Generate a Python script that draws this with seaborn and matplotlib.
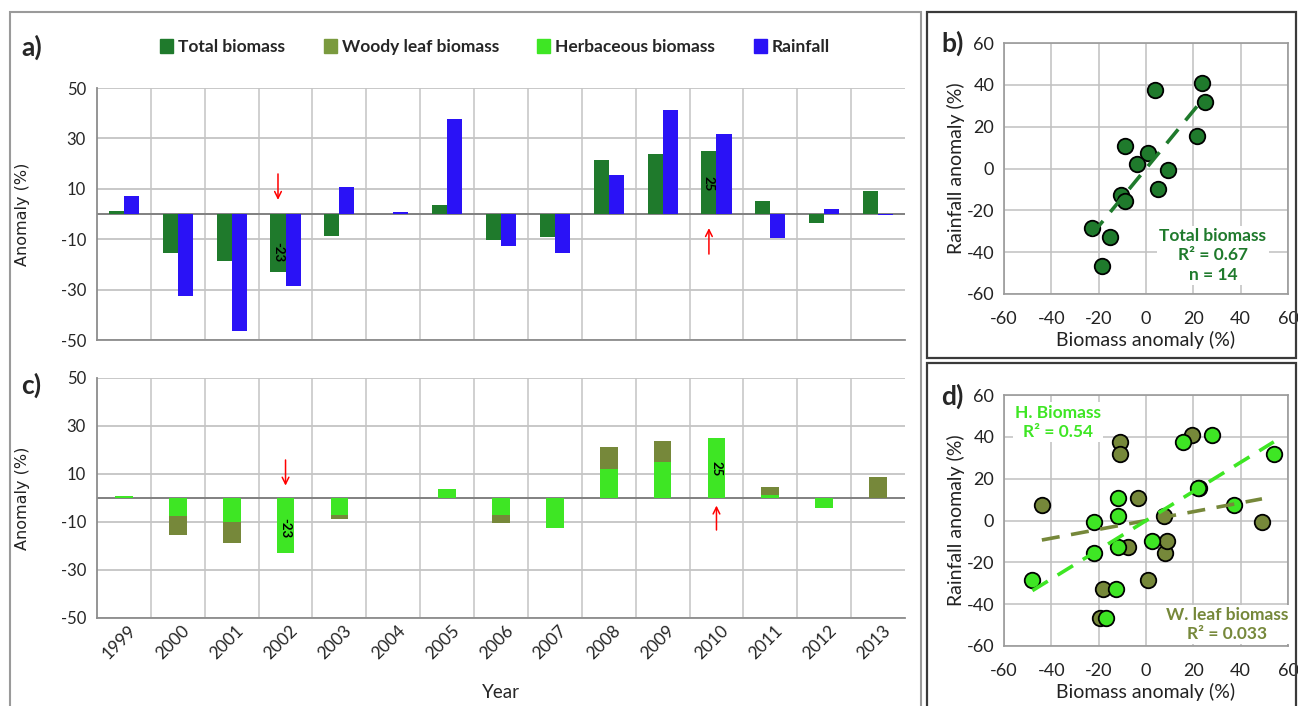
import numpy as np
import pandas as pd
import matplotlib
matplotlib.use("Agg")
import matplotlib.pyplot as plt
import matplotlib.patches as mpatches
from matplotlib.transforms import ScaledTranslation
import seaborn as sns

# ---------------------------------------------------------------- data
years = [str(y) for y in range(1999, 2014)]
total_biomass = [1.0, -15.4, -18.6, -23.0, -8.8, np.nan, 3.6, -10.5, -9.0,
                 21.6, 23.7, 25.0, 5.0, -3.6, 9.3]
rainfall = [7.3, -32.6, -46.4, -28.4, 10.7, 0.8, 37.7, -12.5, -15.6,
            15.4, 41.1, 31.6, -9.7, 2.1, -0.5]
# contributions of each vegetation layer to the total anomaly (stacked)
herb_share = [1.0, -7.5, -10.0, -23.0, -7.1, 0.0, 3.8, -7.1, -12.5,
              12.0, 15.2, 25.0, 1.3, -4.0, 0.0]
woody_share = [0.0, -8.1, -8.6, 0.0, -1.7, 0.0, 0.0, -3.4, 0.0,
               9.4, 8.4, 0.0, 3.4, 0.0, 8.8]
# own anomalies of each layer
herb_anomaly = [37.0, -12.5, -17.0, -48.0, -12.0, np.nan, 15.5, -12.0, -22.0,
                22.0, 28.0, 54.0, 2.5, -12.0, -22.0]
woody_anomaly = [-44.0, -18.0, -19.5, 1.0, -3.5, np.nan, -11.0, -7.5, 8.0,
                 22.5, 19.5, -11.0, 9.0, 7.5, 49.0]

series_names = ["Total biomass", "Woody leaf biomass", "Herbaceous biomass", "Rainfall"]
C_TOTAL = "#1f7a2c"
C_WOODY = "#76883a"
C_HERB = "#3ee624"
C_RAIN = "#2a12f6"
series_colors = [C_TOTAL, "#7a9a3e", C_HERB, C_RAIN]

# ---------------------------------------------------------------- style
sns.set_theme(style="white")
plt.rcParams["font.family"] = ["Lato", "DejaVu Sans"]
plt.rcParams["axes.unicode_minus"] = False

W, H = 1298, 706
fig = plt.figure(figsize=(W / 100, H / 100), dpi=100)


def px_axes(left, top, right, bottom):
    return fig.add_axes([left / W, 1 - bottom / H, (right - left) / W, (bottom - top) / H])


# panel frames
frame_kw = dict(transform=fig.transFigure, fill=False, clip_on=False)
fig.patches.append(mpatches.Rectangle((10 / W, -0.01), 911 / W, 1 - 12 / H + 0.01,
                                      edgecolor="#9a9a9a", lw=1.5, **frame_kw))
fig.patches.append(mpatches.Rectangle((927 / W, 1 - 358 / H), 369 / W, 346 / H,
                                      edgecolor="#3a3a3a", lw=1.6, **frame_kw))
fig.patches.append(mpatches.Rectangle((927 / W, -0.01), 369 / W, 1 - 363 / H + 0.01,
                                      edgecolor="#3a3a3a", lw=1.6, **frame_kw))

GRID = "#c4c4c4"


def style_bar_axes(ax):
    ax.set_xlim(-0.5, 14.5)
    ax.set_ylim(-50, 50)
    ax.set_yticks([-50, -30, -10, 10, 30, 50])
    ax.set_xticks(np.arange(0.5, 14, 1), minor=True)
    ax.yaxis.grid(True, color=GRID, lw=1.3)
    ax.xaxis.grid(True, which="minor", color=GRID, lw=1.1)
    ax.axhline(0, color="#808080", lw=1.4, zorder=1)
    for side in ["top", "right"]:
        ax.spines[side].set_visible(False)
    for side in ["left", "bottom"]:
        ax.spines[side].set_color("#8c8c8c")
        ax.spines[side].set_linewidth(1.3)
    ax.tick_params(axis="y", which="major", length=5, color="#8c8c8c",
                   labelsize=12, pad=3)
    ax.tick_params(axis="x", which="both", length=0)
    ax.set_axisbelow(True)
    ax.set_ylabel("Anomaly (%)", family="DejaVu Sans", fontsize=11.5, color="#222222")
    ax.yaxis.set_label_coords(-0.083, 0.5)


# ---------------------------------------------------------------- a) bars
ax_a = px_axes(97, 88, 905, 340)
df_a = pd.DataFrame({
    "Year": years * 2,
    "Series": ["Total biomass"] * len(years) + ["Rainfall"] * len(years),
    "Anomaly": total_biomass + rainfall,
})
sns.barplot(data=df_a, x="Year", y="Anomaly", hue="Series",
            hue_order=["Total biomass", "Rainfall"],
            palette={"Total biomass": C_TOTAL, "Rainfall": C_RAIN},
            width=0.56, saturation=1, errorbar=None, legend=False,
            linewidth=0, ax=ax_a, zorder=2)
style_bar_axes(ax_a)
ax_a.set_xlabel("")
ax_a.tick_params(axis="x", labelbottom=False)

i02, i10 = years.index("2002"), years.index("2010")
val_kw = dict(rotation=-90, ha="center", va="center", fontsize=9.5,
              weight="bold", color="black", zorder=5)
ax_a.text(i02 - 0.14, -15, f"{total_biomass[i02]:.0f}", **val_kw)
ax_a.text(i10 - 0.14, 12, f"{total_biomass[i10]:.0f}", **val_kw)
arrow = dict(arrowstyle="->", color="red", lw=1.1, mutation_scale=12)
ax_a.annotate("", xy=(i02 - 0.14, 4.5), xytext=(i02 - 0.14, 17), arrowprops=arrow)
ax_a.annotate("", xy=(i10 - 0.14, -4.5), xytext=(i10 - 0.14, -17), arrowprops=arrow)

handles = [mpatches.Patch(color=c, label=n) for n, c in zip(series_names, series_colors)]
fig.legend(handles=handles, loc="center", bbox_to_anchor=(495 / W, 1 - 47 / H),
           ncol=4, frameon=False, handlelength=0.75, handleheight=0.9,
           handletextpad=0.3, columnspacing=2.2,
           prop=dict(family="Lato", weight="bold", size=12.5))
fig.text(21 / W, 1 - 47 / H, "a)", fontsize=19, weight="bold", va="center", ha="left")

# ---------------------------------------------------------------- c) stacked bars
ax_c = px_axes(97, 378, 905, 618)
sns.barplot(x=years, y=herb_share, color=C_HERB, width=0.33, saturation=1,
            errorbar=None, linewidth=0, ax=ax_c, zorder=2)
sns.barplot(x=years, y=woody_share, bottom=herb_share, color=C_WOODY, width=0.33,
            saturation=1, errorbar=None, linewidth=0, ax=ax_c, zorder=2)
style_bar_axes(ax_c)
ax_c.set_xticks(range(len(years)))
ax_c.set_xticklabels(years, rotation=45, ha="right", fontsize=12.5)
ax_c.tick_params(axis="x", pad=3)
shift = ScaledTranslation(11 / 72, 0, fig.dpi_scale_trans)
for lab in ax_c.get_xticklabels():
    lab.set_transform(lab.get_transform() + shift)
ax_c.set_xlabel("Year", fontsize=13.5, labelpad=16)

ax_c.text(i02, -12.7, f"{herb_share[i02]:.0f}", **val_kw)
ax_c.text(i10, 12.3, f"{herb_share[i10]:.0f}", **val_kw)
ax_c.annotate("", xy=(i02, 4.0), xytext=(i02, 17), arrowprops=arrow)
ax_c.annotate("", xy=(i10, -2.0), xytext=(i10, -14.5), arrowprops=arrow)
fig.text(21 / W, 1 - 385 / H, "c)", fontsize=19, weight="bold", va="center", ha="left")


# ---------------------------------------------------------------- scatter panels
def style_scatter_axes(ax):
    ax.set_xlim(-60, 60)
    ax.set_ylim(-60, 60)
    ticks = np.arange(-60, 61, 20)
    ax.set_xticks(ticks)
    ax.set_yticks(ticks)
    ax.grid(True, color="#c0c0c0", lw=1.1)
    ax.set_axisbelow(True)
    for s in ax.spines.values():
        s.set_color("#9a9a9a")
        s.set_linewidth(1.2)
    ax.tick_params(length=0, labelsize=13, colors="#222222")
    ax.tick_params(axis="x", pad=12)
    ax.tick_params(axis="y", pad=7)
    ax.set_xlabel("Biomass anomaly (%)", fontsize=14, labelpad=3, color="#222222")
    ax.set_ylabel("Rainfall anomaly (%)", fontsize=14, labelpad=1, color="#222222")


marker_kw = dict(s=125, edgecolor="black", linewidth=1.3, zorder=3)
dash_kw = dict(lw=2.6, dashes=(5, 3.2), zorder=4)

# b) total biomass vs rainfall
ax_b = px_axes(1004, 43, 1288, 294)
df_b = pd.DataFrame({"biomass": total_biomass, "rain": rainfall}).dropna()
sns.scatterplot(data=df_b, x="biomass", y="rain", color=C_TOTAL, ax=ax_b, **marker_kw)
sns.regplot(data=df_b, x="biomass", y="rain", scatter=False, ci=None, truncate=True,
            line_kws=dict(color=C_TOTAL, **dash_kw), ax=ax_b)
style_scatter_axes(ax_b)
ax_b.text(28.3, -41.5, "Total biomass\nR² = 0.67\nn = 14", ha="center", va="center",
          color=C_TOTAL, fontsize=12.5, weight="bold", linespacing=1.25, zorder=5,
          bbox=dict(facecolor="white", edgecolor="none", pad=1.5))
fig.text(941 / W, 1 - 43 / H, "b)", fontsize=19, weight="bold", va="center", ha="left")

# d) herbaceous and woody leaf biomass vs rainfall
ax_d = px_axes(1004, 395, 1288, 646)
df_w = pd.DataFrame({"biomass": woody_anomaly, "rain": rainfall}).dropna()
df_h = pd.DataFrame({"biomass": herb_anomaly, "rain": rainfall}).dropna()
sns.scatterplot(data=df_w, x="biomass", y="rain", color=C_WOODY, ax=ax_d, **marker_kw)
sns.scatterplot(data=df_h, x="biomass", y="rain", color=C_HERB, ax=ax_d, **marker_kw)
sns.regplot(data=df_w, x="biomass", y="rain", scatter=False, ci=None, truncate=True,
            line_kws=dict(color=C_WOODY, **dash_kw), ax=ax_d)
sns.regplot(data=df_h, x="biomass", y="rain", scatter=False, ci=None, truncate=True,
            line_kws=dict(color=C_HERB, **dash_kw), ax=ax_d)
style_scatter_axes(ax_d)
ax_d.text(-37.2, 47.0, "H. Biomass\nR² = 0.54", ha="center", va="center",
          color=C_HERB, fontsize=12.5, weight="bold", linespacing=1.25, zorder=5,
          bbox=dict(facecolor="white", edgecolor="none", pad=1.5))
ax_d.text(34.2, -49.7, "W. leaf biomass\nR² = 0.033", ha="center", va="center",
          color=C_WOODY, fontsize=12.5, weight="bold", linespacing=1.25, zorder=5,
          bbox=dict(facecolor="white", edgecolor="none", pad=1.5))
fig.text(941 / W, 1 - 396 / H, "d)", fontsize=19, weight="bold", va="center", ha="left")

fig.savefig("out.png", dpi=100)
